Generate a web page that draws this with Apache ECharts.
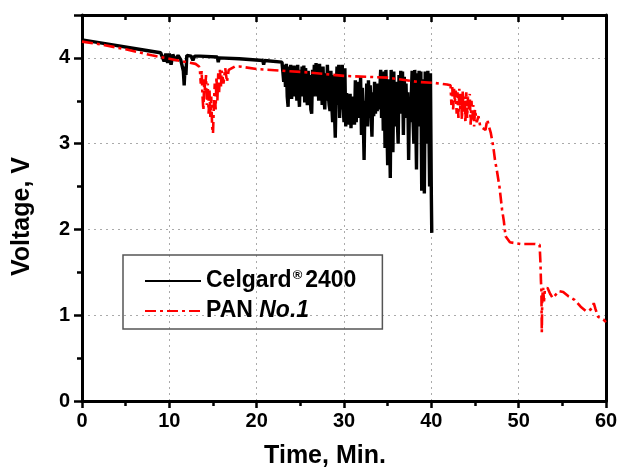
<!DOCTYPE html>
<html>
<head>
<meta charset="utf-8">
<script src="https://cdn.jsdelivr.net/npm/echarts@6/dist/echarts.min.js"></script>
<style>
html,body{margin:0;padding:0;background:#fff;}
#chart{width:619px;height:467px;}
</style>
</head>
<body>
<div id="chart"></div>
<script>
// Celgard 2400 (time in min, voltage in V)
var celgardTime = [0,3,6,9,9.4,9.6,9.8,10.0,10.2,10.4,10.7,11.0,11.3,11.5,11.6,11.7,11.8,11.9,12.0,12.5,12.7,12.9,13.5,15.5,15.6,15.7,18,20.7,20.8,20.9,22.9,
  23.0,23.1,23.2,23.3,23.4,23.5,23.6,23.7,23.8,23.9,
  24.0,24.1,24.2,24.3,24.4,24.5,24.6,24.7,24.8,24.9,
  25.0,25.1,25.2,25.3,25.4,25.5,25.6,25.7,25.8,25.9,
  26.0,26.1,26.2,26.3,26.4,26.5,26.6,26.7,26.8,26.9,
  27.0,27.1,27.2,27.3,27.4,27.5,27.6,27.7,27.8,27.9,
  28.0,28.1,28.2,28.3,28.4,28.5,28.6,28.7,28.8,28.9,
  29.0,29.1,29.2,29.3,29.4,29.5,29.6,29.7,29.8,29.9,
  30.0,30.1,30.2,30.3,30.4,30.5,30.6,30.7,30.8,30.9,
  31.0,31.1,31.2,31.3,31.4,31.5,31.6,31.7,31.8,31.9,
  32.0,32.1,32.2,32.3,32.4,32.5,32.6,32.7,32.8,32.9,
  33.0,33.1,33.2,33.3,33.4,33.5,33.6,33.7,33.8,33.9,
  34.0,34.1,34.2,34.3,34.4,34.5,34.6,34.7,34.8,34.9,
  35.0,35.1,35.2,35.3,35.4,35.5,35.6,35.7,35.8,35.9,
  36.0,36.1,36.2,36.3,36.4,36.5,36.6,36.7,36.8,36.9,
  37.0,37.1,37.2,37.3,37.4,37.5,37.6,37.7,37.8,37.9,
  38.0,38.1,38.2,38.3,38.4,38.5,38.6,38.7,38.8,38.9,
  39.0,39.1,39.2,39.3,39.4,39.5,39.6,39.7,39.8,39.9,
  40.0,40.05];
var celgardVoltage = [4.21,4.16,4.11,4.06,3.96,4.05,3.94,4.05,3.92,4.04,3.97,4.03,3.98,4.00,3.85,3.68,3.90,3.80,4.03,4.02,3.97,4.02,4.02,4.01,3.95,4.00,3.99,3.97,3.92,3.97,3.95,
  3.95,3.72,3.92,3.66,3.93,3.55,3.43,3.90,3.60,3.92,
  3.52,3.88,3.62,3.91,3.55,3.85,3.50,3.92,3.60,3.43,
  3.86,3.55,3.90,3.58,3.91,3.48,3.88,3.62,3.45,3.85,
  3.52,3.80,3.40,3.35,3.86,3.55,3.92,3.62,3.94,3.55,
  3.90,3.50,3.93,3.60,3.88,3.45,3.90,3.55,3.40,3.82,
  3.50,3.92,3.58,3.45,3.38,3.85,3.45,3.25,3.80,3.40,
  3.07,3.60,3.90,3.45,3.92,3.30,3.88,3.40,3.92,3.45,
  3.25,3.88,3.20,3.59,3.28,3.55,3.22,3.58,3.18,3.50,
  3.25,3.55,3.22,3.74,3.25,3.70,3.30,3.72,3.35,3.78,
  3.10,3.65,3.30,2.81,3.50,3.25,3.70,3.20,3.74,3.30,
  3.68,3.35,3.08,3.60,3.32,3.72,3.35,3.65,3.38,3.70,
  3.40,3.62,3.86,3.30,3.82,3.15,3.84,2.95,3.86,3.30,
  2.75,3.75,3.20,2.60,3.86,3.35,2.90,3.84,3.40,3.20,
  3.72,3.30,3.00,3.80,3.40,3.85,3.35,3.84,3.10,3.78,
  3.40,3.70,3.30,3.60,2.81,3.50,3.25,3.55,3.85,3.30,
  3.00,3.86,3.40,2.70,3.82,3.35,3.85,3.20,3.84,2.45,
  3.75,3.30,2.42,3.84,3.35,3.00,3.85,3.40,2.50,3.82,
  2.40,1.96];

// PAN No.1
var panTime = [0,2,5,8,10,12,13.0,13.4,13.5,13.6,13.7,13.8,13.9,14.0,14.1,14.2,14.3,14.4,14.5,14.6,14.7,14.8,14.9,15.0,15.1,15.2,15.3,15.4,15.5,15.6,15.7,15.8,15.9,16.0,16.2,16.4,16.6,16.8,17.0,17.5,18,20,23,26,30,35,38.4,40.2,41.8,
  42.2,42.3,42.4,42.5,42.6,42.7,42.8,42.9,43.0,43.1,43.2,43.3,43.4,43.5,43.6,43.7,43.8,43.9,44.0,44.1,44.2,44.3,44.4,44.5,44.6,44.7,44.8,44.9,45.0,45.2,45.4,45.6,45.9,46.2,46.4,46.6,46.8,47.1,47.3,47.5,47.8,48.1,48.3,48.5,49.0,50.2,51.9,52.4,52.5,52.55,52.6,52.65,52.7,52.8,52.9,53.0,53.3,53.6,53.9,54.6,55.1,55.7,56.4,57.1,57.7,58.0,58.4,58.6,58.8,59.1,59.7,60];
var panVoltage = [4.19,4.16,4.10,4.03,3.99,3.95,3.93,3.90,3.86,3.70,3.85,3.55,3.39,3.75,3.60,3.80,3.45,3.70,3.35,3.62,3.31,3.55,3.20,3.12,3.45,3.70,3.40,3.78,3.50,3.82,3.60,3.86,3.65,3.85,3.70,3.88,3.72,3.86,3.88,3.90,3.90,3.87,3.85,3.83,3.79,3.77,3.72,3.71,3.69,
  3.68,3.45,3.66,3.40,3.64,3.48,3.62,3.35,3.60,3.30,3.64,3.40,3.58,3.28,3.62,3.35,3.55,3.24,3.60,3.30,3.55,3.40,3.58,3.22,3.50,3.28,3.45,3.20,3.40,3.25,3.32,3.20,3.18,3.16,3.28,3.20,3.13,2.96,2.80,2.69,2.50,2.23,2.10,1.92,1.85,1.83,1.83,1.82,1.60,1.40,1.30,0.80,1.20,1.32,1.16,1.30,1.32,1.25,1.20,1.28,1.27,1.22,1.18,1.10,1.05,1.05,1.08,1.14,1.07,0.98,0.95,0.92];

var xTicks = [0,10,20,30,40,50,60];
var yTicks = [0,1,2,3,4];

function pairs(t, v){ var out=[]; for (var i=0;i<t.length;i++) out.push([t[i], v[i]]); return out; }

var FONT = 'Arial, "Liberation Sans", sans-serif';
var chart = echarts.init(document.getElementById('chart'), null, {renderer:'canvas'});
chart.setOption({
  animation:false,
  backgroundColor:'#fff',
  textStyle:{fontFamily:FONT},
  grid:{left:82, right:13, top:15, bottom:66, containLabel:false, outerBoundsMode:'none'},
  legend:{
    left:123, top:255, orient:'vertical',
    borderColor:'#555', borderWidth:1.5,
    padding:[13,26,5,21],
    itemWidth:56, itemHeight:14, itemGap:4,
    itemStyle:{opacity:0},
    textStyle:{fontFamily:FONT, fontSize:23, fontWeight:'bold', color:'#000', lineHeight:26,
      rich:{
        a:{fontFamily:FONT, fontSize:23, fontWeight:'bold', color:'#000', lineHeight:26},
        sup:{fontFamily:FONT, fontSize:13, fontWeight:'bold', color:'#000', padding:[0,3,12,1]},
        i:{fontFamily:FONT, fontSize:23, fontWeight:'bold', fontStyle:'italic', color:'#000', lineHeight:26}
      }},
    formatter:function(name){
      if (name === 'Celgard 2400') return '{a|Celgard}{sup|®}{a|2400}';
      return '{a|PAN }{i|No.1}';
    },
    data:['Celgard 2400','PAN No.1']
  },
  xAxis:[{
    type:'value', min:xTicks[0], max:xTicks[xTicks.length-1], interval:10,
    name:'Time, Min.', nameLocation:'middle', nameGap:43,
    nameTextStyle:{fontFamily:FONT, fontSize:25, fontWeight:'bold', color:'#000', padding:[0,38,0,0]},
    axisLine:{onZero:false, lineStyle:{color:'#000', width:3}},
    axisTick:{inside:false, length:7, lineStyle:{color:'#000', width:2.5}},
    minorTick:{show:true, splitNumber:2, length:5, lineStyle:{color:'#000', width:2.5}},
    axisLabel:{fontFamily:FONT, fontSize:20, fontWeight:'bold', color:'#000', margin:10},
    splitLine:{show:true, lineStyle:{color:'#aaa', type:[2,4], width:1}}
  },{
    type:'value', position:'top', min:xTicks[0], max:xTicks[xTicks.length-1], interval:10,
    axisLine:{onZero:false, lineStyle:{color:'#000', width:3}},
    axisTick:{inside:true, length:7, lineStyle:{color:'#000', width:2.5}},
    minorTick:{show:true, splitNumber:2, length:5, lineStyle:{color:'#000', width:2.5}},
    axisLabel:{show:false}, splitLine:{show:false}
  }],
  yAxis:[{
    type:'value', min:yTicks[0], max:4.5, interval:1,
    name:'Voltage, V', nameLocation:'middle', nameGap:47,
    nameTextStyle:{fontFamily:FONT, fontSize:25, fontWeight:'bold', color:'#000', padding:[0,17,0,0]},
    axisLine:{onZero:false, lineStyle:{color:'#000', width:3}},
    axisTick:{inside:false, length:8, lineStyle:{color:'#000', width:2.5}},
    minorTick:{show:true, splitNumber:2, length:5, lineStyle:{color:'#000', width:2.5}},
    axisLabel:{fontFamily:FONT, fontSize:20, fontWeight:'bold', color:'#000', margin:12, showMaxLabel:false,
      formatter:function(v){ return yTicks.indexOf(v) >= 0 ? String(v) : ''; }},
    splitLine:{show:true, lineStyle:{color:'#aaa', type:[2,4], width:1}}
  },{
    type:'value', position:'right', min:yTicks[0], max:4.5, interval:1,
    axisLine:{show:true, onZero:false, lineStyle:{color:'#000', width:3}},
    axisTick:{show:false}, axisLabel:{show:false}, splitLine:{show:false}
  }],
  series:[{
    name:'Celgard 2400', type:'line', showSymbol:false, symbol:'none',
    data:pairs(celgardTime, celgardVoltage),
    lineStyle:{color:'#000', width:3.4}, itemStyle:{color:'#000'}, z:2
  },{
    name:'PAN No.1', type:'line', showSymbol:false, symbol:'none',
    data:pairs(panTime, panVoltage),
    lineStyle:{color:'#ff0000', width:2.6, type:[11,4,3,4]}, itemStyle:{color:'#ff0000'}, z:3
  }]
});
</script>
</body>
</html>
